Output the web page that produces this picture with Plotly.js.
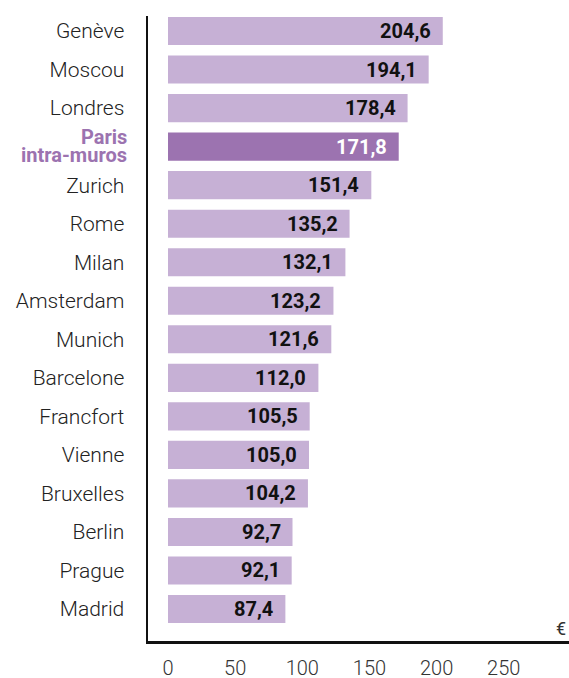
<!DOCTYPE html>
<html><head><meta charset="utf-8">
<script src="https://cdn.plot.ly/plotly-3.0.1.min.js"></script>
<style>html,body{margin:0;padding:0;background:#fff}#chart{width:569px;height:678px}</style>
</head><body><div id="chart"></div>
<script>
const cities = ["Genève","Moscou","Londres","Paris intra-muros","Zurich","Rome","Milan","Amsterdam","Munich","Barcelone","Francfort","Vienne","Bruxelles","Berlin","Prague","Madrid"];
const values = [204.6,194.1,178.4,171.8,151.4,135.2,132.1,123.2,121.6,112.0,105.5,105.0,104.2,92.7,92.1,87.4];
const highlight = "Paris intra-muros";
const highlightLines = ["Paris","intra-muros"];
const xTicks = [0,50,100,150,200,250];

const light = "#c6b0d5", dark = "#9c73b0";
const idx = cities.map((c,i)=>i);
const colors = cities.map(c => c===highlight ? dark : light);
const tickText = cities.map(c => c===highlight ? "" : c);
const fmt = v => v.toFixed(1).replace('.', ',');
const hi = cities.indexOf(highlight);

const annotations = values.map((v,i)=>({
  x: v, y: i, xref:'x', yref:'y', text: fmt(v), showarrow:false,
  xanchor:'right', yanchor:'middle', xshift:-10,
  font:{family:'Roboto, sans-serif', size:20, weight:700, color: cities[i]===highlight ? '#ffffff' : '#111111'}
}));
highlightLines.forEach((t,k)=>annotations.push({
  xref:'paper', yref:'y', x:0, y: hi + (k===0 ? -0.24 : 0.22), xanchor:'right', yanchor:'middle',
  xshift:-19, text:'<b>'+t+'</b>', showarrow:false,
  font:{family:'Roboto, sans-serif', size:20, color:dark}
}));
annotations.push({xref:'paper', yref:'paper', x:1, y:0, xanchor:'right', yanchor:'bottom', yshift:0, xshift:-1,
  text:'€', showarrow:false, font:{family:'Roboto, sans-serif', size:18, color:'#333'}});

Plotly.newPlot('chart', [{
  type:'bar', orientation:'h', x: values, y: idx,
  marker:{color: colors}, width:0.73, hoverinfo:'none'
}], {
  width:569, height:678,
  margin:{l:148, r:0, t:16, b:37, pad:0},
  paper_bgcolor:'#fff', plot_bgcolor:'#fff',
  showlegend:false,
  xaxis:{range:[-14.9, 298.6], tickvals:xTicks, ticktext:xTicks.map(String),
    showgrid:false, zeroline:false, showline:true, linecolor:'#111', linewidth:2.5,
    ticks:'', ticklabelstandoff:7,
    tickfont:{family:'Roboto, sans-serif', size:20, weight:300, color:'#333'}},
  yaxis:{range:[15.83, -0.39], tickvals: idx, ticktext: tickText,
    showgrid:false, zeroline:false, showline:true, linecolor:'#111', linewidth:2.5,
    ticks:'', ticklabelstandoff:17,
    tickfont:{family:'Roboto, sans-serif', size:21, weight:300, color:'#222'}},
  annotations: annotations
}, {displayModeBar:false, staticPlot:true});
</script></body></html>
